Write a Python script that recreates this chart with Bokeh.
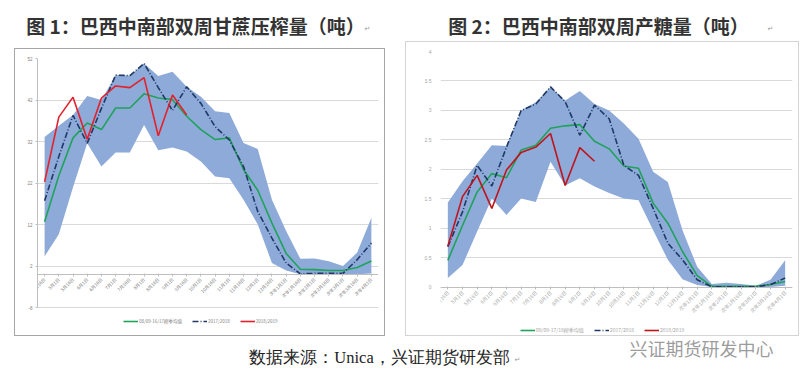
from math import pi
from bokeh.plotting import figure
from bokeh.layouts import column, row
from bokeh.models import (FactorRange, Range1d, FixedTicker, Legend, LegendItem,
                          Label, NumeralTickFormatter)
from bokeh.embed import file_html
from bokeh.resources import INLINE

# ---------------- data ----------------
cats = ["4月16日", "5月1日", "5月16日", "6月1日", "6月16日", "7月1日", "7月16日",
        "8月1日", "8月16日", "9月1日", "9月16日", "10月1日", "10月16日", "11月1日",
        "11月16日", "12月1日", "12月16日", "次年1月1日", "次年1月16日", "次年2月1日",
        "次年2月16日", "次年3月1日", "次年3月16日", "次年4月1日"]

# chart 1: cane crush (百万吨)
crush_low = [4.4, 9.7, 21.0, 31.6, 26.0, 29.4, 29.4, 36.0, 29.9, 30.6, 29.6, 27.2,
             23.6, 23.2, 18.0, 12.1, 2.8, 1.0, 0.1, 0.1, 0.1, 0.1, 0.1, 0.3]
crush_high = [33.1, 35.8, 38.4, 43.0, 42.0, 48.0, 47.9, 50.8, 47.8, 48.8, 45.2, 42.8,
              39.3, 38.9, 31.7, 30.2, 18.0, 10.5, 3.8, 3.9, 3.2, 2.1, 5.3, 13.7]
crush_avg = [12.7, 23.8, 32.9, 36.5, 34.9, 40.1, 40.1, 43.5, 42.5, 42.1, 38.1, 34.9,
             32.5, 32.9, 25.3, 20.3, 12.4, 5.1, 1.3, 1.2, 1.0, 1.0, 1.7, 3.3]
crush_1718 = [17.8, 28.4, 38.3, 31.6, 40.0, 48.0, 47.9, 50.8, 45.0, 39.5, 45.2, 41.2,
              35.6, 32.4, 26.0, 15.2, 8.8, 2.8, 0.2, 0.3, 0.3, 0.3, 3.6, 7.6]
crush_1819 = [22.3, 37.9, 42.7, 32.6, 42.5, 45.4, 45.0, 47.4, 33.4, 43.2, 38.4]
crush_ticks = [-8, 2, 12, 22, 32, 42, 52]

# chart 2: sugar output (百万吨)
sugar_low = [0.16, 0.38, 0.95, 1.51, 1.23, 1.51, 1.45, 2.13, 1.73, 1.85, 1.71, 1.60,
             1.51, 1.48, 0.97, 0.47, 0.14, 0.04, 0.01, 0.01, 0.01, 0.01, 0.01, 0.03]
sugar_high = [1.44, 1.80, 2.10, 2.41, 2.40, 3.00, 3.14, 3.40, 3.17, 3.33, 3.11, 3.00,
              2.78, 2.52, 1.96, 1.79, 0.97, 0.35, 0.06, 0.08, 0.06, 0.03, 0.13, 0.46]
sugar_avg = [0.46, 1.05, 1.62, 1.93, 1.86, 2.33, 2.41, 2.70, 2.74, 2.76, 2.48, 2.35,
             2.06, 2.02, 1.43, 1.09, 0.61, 0.20, 0.02, 0.02, 0.02, 0.02, 0.05, 0.10]
sugar_1718 = [0.69, 1.28, 2.07, 1.72, 2.38, 3.00, 3.11, 3.40, 3.15, 2.58, 3.09, 2.86,
              2.07, 1.90, 1.34, 0.75, 0.47, 0.13, 0.01, 0.01, 0.01, 0.01, 0.05, 0.16]
sugar_1819 = [0.70, 1.54, 1.90, 1.34, 1.99, 2.29, 2.38, 2.61, 1.73, 2.37, 2.14]
sugar_ticks = [0, 0.5, 1, 1.5, 2, 2.5, 3, 3.5, 4]

title1 = "图 1：巴西中南部双周甘蔗压榨量（吨）"
title2 = "图 2：巴西中南部双周产糖量（吨）"
legend1 = ["08/09-16/17榨季均值", "2017/2018", "2018/2019"]
legend2 = ["08/09-17/18榨季均值", "2017/2018", "2018/2019"]
unit_label = "百万"
source_text = "数据来源：Unica，兴证期货研发部"
watermark = "兴证期货研发中心"

CJK = "Noto Sans CJK SC"
BAND = "#8eaad8"
GREEN = "#1fa35a"
NAVY = "#1f3864"


def blank(p):
    p.xaxis.visible = False
    p.yaxis.visible = False
    p.grid.visible = False
    p.outline_line_color = None


def chart(width, height, borders, yr, ticks, low, high, avg, s1718, s1819, red,
          labels, tick_color, lab_size, leg_loc, axis_line, border_col, unit_xy):
    p = figure(width=width, height=height,
               x_range=FactorRange(factors=cats, range_padding=0),
               y_range=Range1d(*yr), output_backend="svg", toolbar_location=None,
               min_border_left=borders[0], min_border_right=borders[1],
               min_border_top=borders[2], min_border_bottom=borders[3],
               border_fill_color=None, background_fill_color=None)
    p.outline_line_color = None
    p.styles = {"outline": f"1px solid {border_col}", "outline-offset": "-1px"}
    p.varea(x=cats, y1=low, y2=high, fill_color=BAND, fill_alpha=1)
    g = p.line(cats, avg, line_color=GREEN, line_width=1.6)
    n = p.line(cats, s1718, line_color=NAVY, line_width=1.6, line_dash="6 2 1 2")
    r = p.line(cats[:len(s1819)], s1819, line_color=red, line_width=1.6)

    p.xgrid.visible = False
    p.ygrid.grid_line_color = "#d9d9d9"
    p.ygrid.grid_line_width = 1

    ya = p.yaxis[0]
    ya.ticker = FixedTicker(ticks=ticks)
    ya.major_label_text_font_size = lab_size
    ya.major_label_text_color = tick_color
    ya.minor_tick_line_color = None
    ya.major_label_standoff = 3
    if axis_line:
        ya.axis_line_color = "#bfbfbf"
        ya.major_tick_line_color = "#bfbfbf"
        ya.major_tick_out = 2
        ya.major_tick_in = 0
        ya.bounds = (ticks[0], ticks[-1])
    else:
        ya.axis_line_color = None
        ya.major_tick_line_color = None
    ya.formatter = NumeralTickFormatter(format="0.[0]")

    xa = p.xaxis[0]
    xa.fixed_location = 0
    xa.major_label_orientation = pi / 4
    xa.major_label_text_font_size = lab_size
    xa.major_label_text_font = CJK
    xa.major_label_text_color = tick_color
    xa.axis_line_color = "#bfbfbf"
    xa.major_tick_line_color = "#bfbfbf"
    xa.major_tick_out = 2
    xa.major_tick_in = 1
    xa.major_label_standoff = 2

    leg = Legend(items=[LegendItem(label=labels[0], renderers=[g]),
                        LegendItem(label=labels[1], renderers=[n]),
                        LegendItem(label=labels[2], renderers=[r])],
                 location=leg_loc, orientation="horizontal",
                 label_text_font_size=lab_size, label_text_font=CJK,
                 label_text_color=tick_color, glyph_width=15, glyph_height=6,
                 label_height=6, label_standoff=1, spacing=10, padding=0,
                 margin=0, border_line_color=None, background_fill_alpha=0)
    p.add_layout(leg)

    p.add_layout(Label(x=unit_xy[0], y=unit_xy[1], text=unit_label, angle=pi / 2,
                       text_font=CJK, text_font_size=lab_size,
                       text_color=tick_color, text_align="center",
                       text_baseline="middle"))
    return p


c1 = chart(371, 288, (23, 7, 9, 2), (-14.4, 52), crush_ticks, crush_low, crush_high,
           crush_avg, crush_1718, crush_1819, "#e3202b", legend1, "#808080", "4.5px",
           (86, 10), True, "#a6a6a6", (-1.25, 49.5))
c1.margin = (7, 0, 0, 6)

c2 = chart(394, 295, (35, 7, 10, 1), (-0.797, 4), sugar_ticks, sugar_low, sugar_high,
           sugar_avg, sugar_1718, sugar_1819, "#c0141c", legend2, "#a6a6a6", "5px",
           (80, 1), False, "#d4d4d4", (-1.45, 3.75))
c2.margin = (0, 0, 0, 20)

# header with titles
head = figure(width=791, height=33, x_range=Range1d(0, 791), y_range=Range1d(0, 33),
              output_backend="svg", toolbar_location=None, min_border=0,
              border_fill_color=None, background_fill_color=None)
blank(head)
for tx, xx in ((title1, 187), (title2, 590)):
    head.add_layout(Label(x=xx, y=16, text=tx, text_font=CJK,
                          text_font_style="bold", text_font_size="19px",
                          text_color="#333333", text_align="center",
                          text_baseline="middle"))
for xx in (356, 759):
    head.add_layout(Label(x=xx, y=13, text="↵", text_font="DejaVu Sans",
                          text_font_size="7px", text_color="#999999",
                          text_baseline="middle"))

# footer with source and watermark
foot = figure(width=791, height=34, x_range=Range1d(0, 791), y_range=Range1d(0, 34),
              output_backend="svg", toolbar_location=None, min_border=0,
              border_fill_color=None, background_fill_color=None)
blank(foot)
foot.add_layout(Label(x=371, y=13, text=source_text,
                      text_font="Liberation Serif", text_font_size="16.5px",
                      text_color="#222222", text_align="center", text_baseline="middle"))
foot.add_layout(Label(x=506, y=11, text="↵", text_font="DejaVu Sans",
                      text_font_size="7px", text_color="#999999", text_baseline="middle"))
foot.add_layout(Label(x=693, y=23, text=watermark, text_font=CJK,
                      text_font_size="18px", text_color="#8a8a8a", text_alpha=0.85,
                      text_align="center", text_baseline="middle"))

layout = column(head, row(c1, c2), foot)
layout.margin = (8, 0, 0, 8)
open("out.html", "w").write(file_html(layout, INLINE))
